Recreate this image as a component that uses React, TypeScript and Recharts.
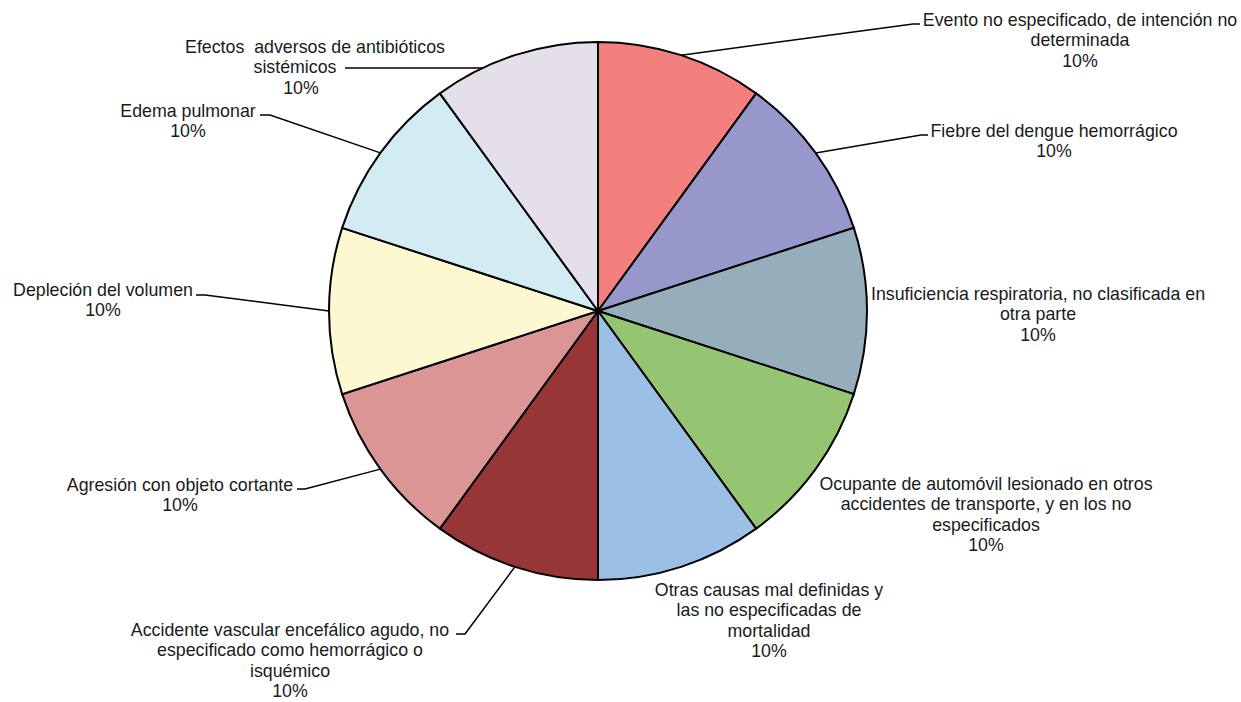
import React from 'react';
import { PieChart, Pie, Cell } from 'recharts';

const categories: string[] = [
  'Evento no especificado, de intención no determinada',
  'Fiebre del dengue hemorrágico',
  'Insuficiencia respiratoria, no clasificada en otra parte',
  'Ocupante de automóvil lesionado en otros accidentes de transporte, y en los no especificados',
  'Otras causas mal definidas y las no especificadas de mortalidad',
  'Accidente vascular encefálico agudo, no especificado como hemorrágico o isquémico',
  'Agresión con objeto cortante',
  'Depleción del volumen',
  'Edema pulmonar',
  'Efectos  adversos de antibióticos sistémicos',
];

const values: number[] = [1, 1, 1, 1, 1, 1, 1, 1, 1, 1];

const colors: string[] = [
  '#F47F7F',
  '#9797CB',
  '#96ADBB',
  '#95C472',
  '#9BBFE5',
  '#963636',
  '#DA9594',
  '#FEF8D2',
  '#D3EBF3',
  '#E5DFEC',
];

// label layout, offsets relative to the pie centre
type LabelLayout = {
  tx: number; ty: number; wrap: number; shifts?: number[];
  line?: { y: number; elbowX: number; tickX: number; start: 'mid' | 'level' };
};
const labelLayout: LabelLayout[] = [
  { tx: 482, ty: -291, wrap: 39, line: { y: -287, elbowX: 315, tickX: 322, start: 'mid' } },
  { tx: 456, ty: -180, wrap: 60, line: { y: -176, elbowX: 323, tickX: 330, start: 'mid' } },
  { tx: 440, ty: -17, wrap: 45 },
  { tx: 388, ty: 173, wrap: 40 },
  { tx: 171, ty: 279, wrap: 28 },
  { tx: -308, ty: 319, wrap: 39, line: { y: 323, elbowX: -133, tickX: -142, start: 'mid' } },
  { tx: -418, ty: 174, wrap: 60, line: { y: 178, elbowX: -293, tickX: -301, start: 'mid' } },
  { tx: -495, ty: -21, wrap: 60, line: { y: -16, elbowX: -393, tickX: -402, start: 'mid' } },
  { tx: -410, ty: -200, wrap: 60, line: { y: -196, elbowX: -328, tickX: -338, start: 'mid' } },
  { tx: -283, ty: -264, wrap: 33, shifts: [0, -20, -14], line: { y: -243, elbowX: -253, tickX: -253, start: 'level' } },
];

const LINE_H = 20.4;
const FONT_SIZE = 17.8;

const data = categories.map((name, i) => ({ name, value: values[i] }));

function wrapText(s: string, max: number): string[] {
  const words = s.split(' ');
  const lines: string[] = [];
  let cur = '';
  words.forEach((w, k) => {
    const cand = k === 0 ? w : cur + ' ' + w;
    if (cand.length > max && cur.trim().length > 0) {
      lines.push(cur);
      cur = w;
    } else {
      cur = cand;
    }
  });
  if (cur.length) lines.push(cur);
  return lines;
}

const RAD = Math.PI / 180;

const renderLabel = (props: any) => {
  const { cx, cy, midAngle, outerRadius, index, percent } = props;
  const lay = labelLayout[index];
  const lines = wrapText(categories[index], lay.wrap);
  lines.push(`${Math.round(percent * 100)}%`);
  const tx = cx + lay.tx;
  const ty0 = cy + lay.ty;
  let path: React.ReactNode = null;
  if (lay.line) {
    const ly = cy + lay.line.y;
    let sx: number, sy: number;
    if (lay.line.start === 'mid') {
      sx = cx + outerRadius * Math.cos(-midAngle * RAD);
      sy = cy + outerRadius * Math.sin(-midAngle * RAD);
    } else {
      const dy = lay.line.y;
      const dx = Math.sqrt(Math.max(0, outerRadius * outerRadius - dy * dy));
      sx = cx + (lay.line.elbowX < 0 ? -dx : dx);
      sy = ly;
    }
    const ex = cx + lay.line.elbowX;
    const kx = cx + lay.line.tickX;
    path = (
      <polyline
        points={`${sx},${sy} ${ex},${ly} ${kx},${ly}`}
        fill="none"
        stroke="#000"
        strokeWidth={1.5}
      />
    );
  }
  return (
    <g key={`lbl-${index}`}>
      {path}
      <text
        x={tx}
        y={ty0}
        textAnchor="middle"
        fontFamily="'Liberation Sans', Arial, sans-serif"
        fontSize={FONT_SIZE}
        fill="#1a1a1a"
        style={{ whiteSpace: 'pre' }}
      >
        {lines.map((l, k) => (
          <tspan key={k} x={tx + (lay.shifts?.[k] ?? 0)} y={ty0 + k * LINE_H + 6}>
            {l}
          </tspan>
        ))}
      </text>
    </g>
  );
};

export default function App() {
  return (
    <div style={{ position: 'absolute', left: 0, top: 0, width: 1241, height: 702, background: '#fff' }}>
      <PieChart width={1241} height={702} margin={{ top: 0, right: 0, bottom: 0, left: 0 }}>
        <Pie
          data={data}
          dataKey="value"
          nameKey="name"
          cx={598}
          cy={311}
          outerRadius={269}
          startAngle={90}
          endAngle={-270}
          stroke="#000"
          strokeWidth={2}
          label={renderLabel}
          labelLine={false}
          isAnimationActive={false}
        >
          {data.map((d, i) => (
            <Cell key={d.name} fill={colors[i]} stroke="#000" strokeWidth={2} />
          ))}
        </Pie>
      </PieChart>
    </div>
  );
}
